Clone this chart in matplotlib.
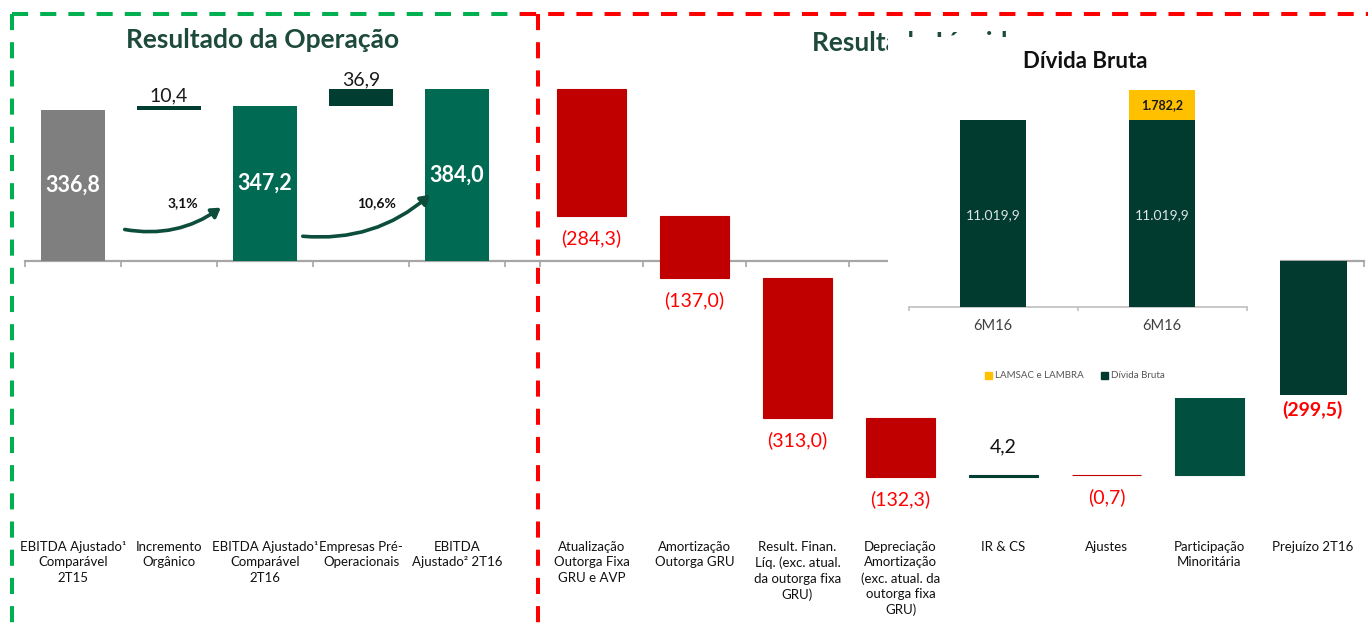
import matplotlib
matplotlib.use("Agg")
import matplotlib.pyplot as plt
from matplotlib.lines import Line2D
from matplotlib.patches import FancyArrowPatch, Patch

plt.rcParams['font.family'] = ['Lato', 'DejaVu Sans']

# ---------------- data ----------------
op_categories = ["EBITDA Ajustado¹\nComparável\n2T15", "Incremento\nOrgânico",
                 "EBITDA Ajustado¹\nComparável\n2T16", "Empresas Pré-\nOperacionais",
                 "EBITDA\nAjustado² 2T16"]
op_values = [336.8, 10.4, 347.2, 36.9, 384.0]
op_kinds = ["total", "delta", "total", "delta", "total"]
op_growth = ["3,1%", "10,6%"]

net_categories = ["Atualização\nOutorga Fixa\nGRU e AVP", "Amortização\nOutorga GRU",
                  "Result. Finan.\nLíq. (exc. atual.\nda outorga fixa\nGRU)",
                  "Depreciação\nAmortização\n(exc. atual. da\noutorga fixa\nGRU)",
                  "IR & CS", "Ajustes", "Participação\nMinoritária", "Prejuízo 2T16"]
net_start = 384.0
net_values = [-284.3, -137.0, -313.0, -132.3, 4.2, -0.7, 179.6]
net_result = -299.5

debt_categories = ["6M16", "6M16"]
debt_gross = [11019.9, 11019.9]
debt_lamsac = [0.0, 1782.2]
debt_series = ["LAMSAC e LAMBRA", "Dívida Bruta"]

# ---------------- layout helpers ----------------
W, H = 1368, 623
BASE = 261.0      # pixel row of zero line
SCALE = 0.4475    # px per unit (main charts)


def fx(px):
    return px / W


def fy(py):
    return 1 - py / H


def ydat(py):
    return (BASE - py) / SCALE


def fmt(v):
    return f"{abs(v):.1f}".replace(".", ",")


def fmt_thousands(v):
    s = f"{v:,.1f}"
    return s.replace(",", "X").replace(".", ",").replace("X", ".")


fig = plt.figure(figsize=(W / 100, H / 100), dpi=100)
fig.patch.set_facecolor("white")

AX_GRAY = "#a6a6a6"
TITLE_C = "#1d4a3a"


def style_axis(ax, xmin, xmax, nbound):
    ax.set_xlim(xmin, xmax)
    ax.set_ylim(-(H - BASE) / SCALE, BASE / SCALE)
    for s in ["top", "right", "left"]:
        ax.spines[s].set_visible(False)
    ax.spines["bottom"].set_position(("data", 0))
    ax.spines["bottom"].set_color(AX_GRAY)
    ax.spines["bottom"].set_linewidth(1.6)
    ax.set_yticks([])
    ax.set_xticks([b - 0.5 for b in range(nbound)])
    ax.set_xticklabels([])
    ax.tick_params(axis="x", direction="out", length=4, width=1.2, color=AX_GRAY)
    ax.patch.set_alpha(0)


# ---------------- left: Resultado da Operação ----------------
ax_l = fig.add_axes([fx(25), 0, fx(540) - fx(25), 1])
style_axis(ax_l, -0.5, (540 - 73) / 96, len(op_categories) + 1)

running = 0.0
for i, (v, kind) in enumerate(zip(op_values, op_kinds)):
    if kind == "total":
        color = "#7f7f7f" if i == 0 else "#006a52"
        ax_l.bar(i, v, width=0.667, bottom=0, color=color, zorder=3)
        ax_l.text(i, v / 2, fmt(v), ha="center", va="center", color="white",
                  fontsize=15.5, fontweight="bold", zorder=4)
        running = v
    else:
        ax_l.bar(i, v, width=0.667, bottom=running, color="#023d31", zorder=3)
        ax_l.annotate(fmt(v), (i, running + v), xytext=(0, 7), textcoords="offset points",
                      ha="center", va="center", fontsize=14, color="#1a1a1a")
        running += v

for i, cat in enumerate(op_categories):
    ax_l.text(i, ydat(541), cat, ha="center", va="top", fontsize=9.5,
              linespacing=1.35, color="#111111")

# growth arrows
arrows = [((122, 229), (223, 206), (183, 203)), ((300, 236), (432, 193), (377, 203))]
for (p0, p1, pt), txt in zip(arrows, op_growth):
    a = FancyArrowPatch(((p0[0] - 73) / 96, ydat(p0[1])),
                        ((p1[0] - 73) / 96, ydat(p1[1])),
                        connectionstyle="arc3,rad=0.22",
                        arrowstyle="-|>,head_length=3.5,head_width=2.2",
                        mutation_scale=1.5, color="#0d4d3b", lw=2.6, zorder=5)
    ax_l.add_patch(a)
    ax_l.text((pt[0] - 73) / 96, ydat(pt[1]), txt, ha="center", va="center",
              fontsize=10, fontweight="bold", color="#111111", zorder=6)

ax_l.text((263 - 73) / 96, ydat(40), "Resultado da Operação", ha="center", va="center",
          fontsize=19, fontweight="bold", color=TITLE_C)

# ---------------- right: Resultado Líquido ----------------
ax_r = fig.add_axes([fx(540), 0, fx(1364) - fx(540), 1])
style_axis(ax_r, -0.5, 7.5, len(net_categories) + 1)

running = net_start
for i, v in enumerate(net_values):
    color = "#c00000" if v < 0 else ("#023d31" if i == 4 else "#01503f")
    ax_r.bar(i, v, width=0.67, bottom=running, color=color, edgecolor=color,
             linewidth=0.8, zorder=3)
    if v < 0:
        ax_r.annotate(f"({fmt(v)})", (i, running + v), xytext=(0, -16),
                      textcoords="offset points", ha="center", va="center",
                      fontsize=14, color="#ff0000")
    else:
        ax_r.annotate(fmt(v), (i, running + v), xytext=(0, 20),
                      textcoords="offset points", ha="center", va="center",
                      fontsize=14, color="#111111")
    running += v

n = len(net_values)
ax_r.bar(n, net_result, width=0.67, bottom=0, color="#023a30", zorder=3)
ax_r.annotate(f"({fmt(net_result)})", (n, net_result), xytext=(0, -11),
              textcoords="offset points", ha="center", va="center",
              fontsize=14, fontweight="bold", color="#ff0000")

for i, cat in enumerate(net_categories):
    ax_r.text(i, ydat(541), cat, ha="center", va="top", fontsize=9.5,
              linespacing=1.35, color="#111111")

ax_r.text((813 - 592) / 103, ydat(43), "Resultado Líquido", ha="left", va="center",
          fontsize=19, fontweight="bold", color=TITLE_C)

# ---------------- inset: Dívida Bruta ----------------
bx0, bx1, by0, by1 = 888, 1280, 37, 398
ax_in = fig.add_axes([fx(bx0), fy(by1), fx(bx1) - fx(bx0), (by1 - by0) / H])
ax_in.set_zorder(10)
ax_in.set_facecolor("white")
for s in ax_in.spines.values():
    s.set_visible(False)
ax_in.set_xticks([])
ax_in.set_yticks([])
k = debt_gross[0] / 187.0
base_in = 307
ax_in.set_xlim((bx0 - 993) / 169, (bx1 - 993) / 169)
ax_in.set_ylim(-(by1 - base_in) * k, (base_in - by0) * k)

xs = range(len(debt_categories))
ax_in.bar(xs, debt_gross, width=0.39, color="#013a2f", label=debt_series[1], zorder=3)
ax_in.bar(xs, debt_lamsac, width=0.39, bottom=debt_gross, color="#ffc000",
          label=debt_series[0], zorder=3)
ax_in.plot([-0.5, len(debt_categories) - 0.5], [0, 0], color="#bfbfbf", lw=1.2, zorder=2)
ax_in.vlines([b - 0.5 for b in range(len(debt_categories) + 1)], -4 * k, 0,
             color="#bfbfbf", lw=1.2)
for i in xs:
    ax_in.text(i, debt_gross[i] / 2 - 1.5 * k, fmt_thousands(debt_gross[i]),
               ha="center", va="center", fontsize=10, color="#dfe6e3", zorder=4)
    if debt_lamsac[i] > 0:
        ax_in.text(i, debt_gross[i] + debt_lamsac[i] / 2, fmt_thousands(debt_lamsac[i]),
                   ha="center", va="center", fontsize=9, fontweight="bold",
                   color="#1a1a1a", zorder=4)
    ax_in.text(i, -19 * k, debt_categories[i], ha="center", va="center",
               fontsize=10.5, color="#404040")
ax_in.text((1085 - bx0) / (bx1 - bx0), (by1 - 62) / (by1 - by0), "Dívida Bruta",
           transform=ax_in.transAxes, ha="center", va="center", fontsize=16,
           fontweight="bold", color="#111111")
handles = [Patch(color="#ffc000"), Patch(color="#013a2f")]
leg = ax_in.legend(handles, debt_series, loc="center", ncol=2, frameon=False,
                   bbox_to_anchor=((1075 - bx0) / (bx1 - bx0), (by1 - 376) / (by1 - by0)),
                   fontsize=7, handlelength=0.7, handleheight=0.7,
                   handletextpad=0.3, columnspacing=1.8)
for t in leg.get_texts():
    t.set_color("#555555")

# ---------------- dashed frames ----------------
dash = dict(lw=2.9, linestyle=(0, (4, 3)), transform=fig.transFigure)
fig.add_artist(Line2D([fx(12), fx(12)], [fy(14), fy(623)], color="#00b050", **dash))
fig.add_artist(Line2D([fx(12), fx(520)], [fy(14), fy(14)], color="#00b050", **dash))
fig.add_artist(Line2D([fx(520), fx(1368)], [fy(14), fy(14)], color="#ff0000", **dash))
fig.add_artist(Line2D([fx(538), fx(538)], [fy(14), fy(623)], color="#ff0000", **dash))

fig.savefig("out.png", dpi=100, facecolor="white")
